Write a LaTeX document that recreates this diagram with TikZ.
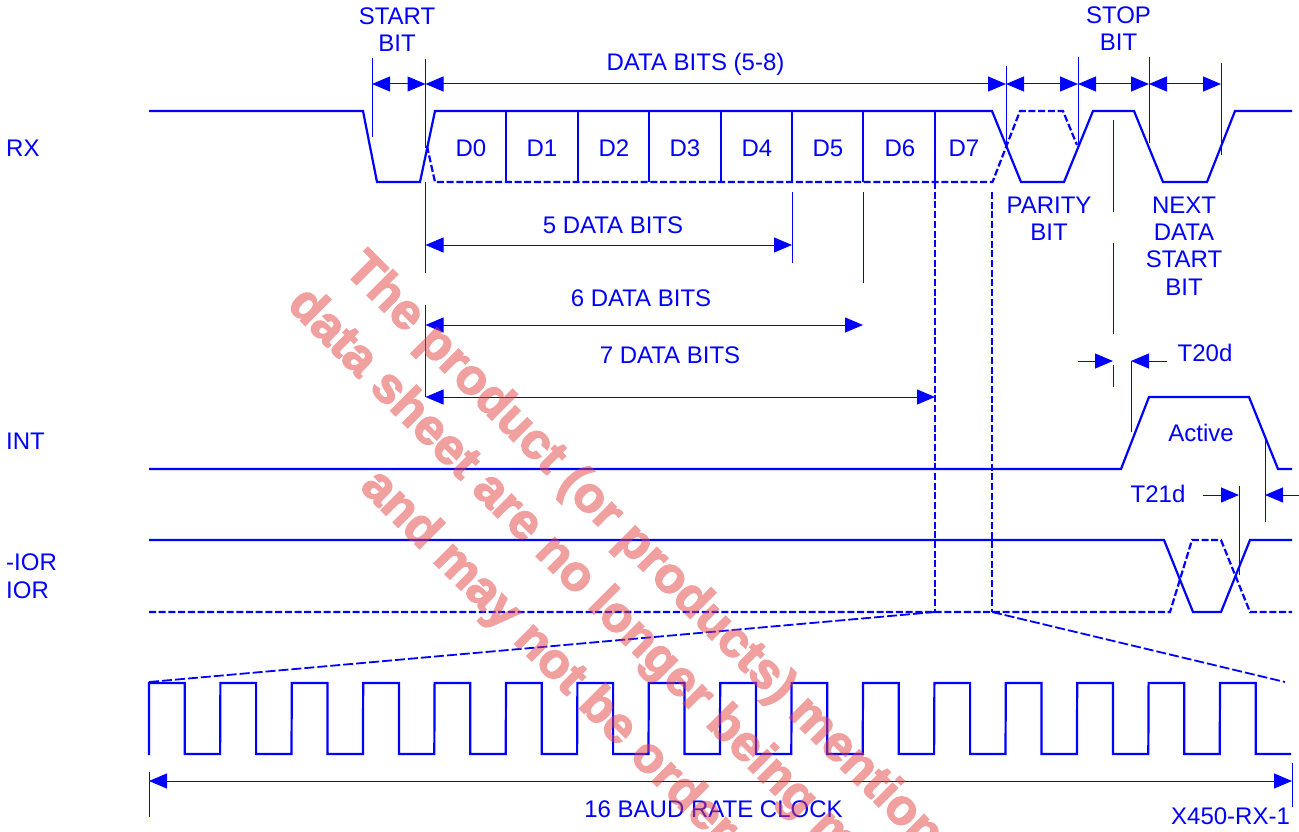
\documentclass[tikz,border=0pt]{standalone}
\usepackage{fontspec}
\setmainfont{Liberation Sans}
\newfontfamily\markfont[FakeBold=3]{Liberation Sans Bold}
\usetikzlibrary{arrows.meta}
\definecolor{sigblue}{RGB}{0,0,255}
\definecolor{markred}{RGB}{227,65,65}
\tikzset{
	sigline/.style={sigblue, line width=2.2pt},
	sigdash/.style={sigblue, line width=2.2pt, dash pattern=on 7pt off 2.7pt},
	fandash/.style={sigblue, line width=1.8pt, dash pattern=on 10pt off 3pt},
	tickline/.style={sigblue, line width=1pt},
	dimboth/.style={tickline, {Triangle[length=18pt,width=15pt]}-{Triangle[length=18pt,width=15pt]}},
	dimin/.style={tickline, -{Triangle[length=18pt,width=15pt]}},
	lbl/.style={sigblue, inner sep=0pt, align=center, font=\fontsize{24}{27.3}\selectfont},
	lblleft/.style={lbl, anchor=west},
	wmark/.style={markred, inner sep=0pt, rotate=-45, anchor=base west, font=\fontsize{50}{50}\selectfont\markfont},
}
\begin{document}
\begin{tikzpicture}[x=1pt, y=-1pt]
	\useasboundingbox (0,0) rectangle (1299,832);
	% RX
	\draw[sigline] (149,111) -- (363,111) -- (377,182) -- (420,182) -- (435,111) -- (992,111) -- (1021,182) -- (1064,182) -- (1093,111) -- (1134,111) -- (1163,182) -- (1207,182) -- (1235,111) -- (1292,111);
	\draw[sigdash] (427,146) -- (435,182) -- (992.5,182) -- (1020,111) -- (1063,111) -- (1077,145);
	\foreach \x in {506,578,649,721,792,863,935}
		\draw[sigline] (\x,111) -- (\x,182);
	\foreach \x/\t in {471/D0,542/D1,614/D2,685/D3,757/D4,828/D5,900/D6,964/D7}
		\node[lbl] (lbl\t) at (\x,148) {\t};

	% marks above RX
	\coordinate (S0) at (372,84);
	\coordinate (S1) at (425.5,84);
	\coordinate (S2) at (1006,84);
	\coordinate (S3) at (1078,84);
	\coordinate (S4) at (1149,84);
	\coordinate (S5) at (1221,84);
	\draw[tickline] (372,58) -- (372,137);
	\draw[tickline] (425.5,59) -- (425.5,148);
	\draw[tickline] (1006,66) -- (1006,146);
	\draw[tickline] (1078,57) -- (1078,145);
	\draw[tickline] (1149,57) -- (1149,143);
	\draw[tickline] (1221,63) -- (1221,155);
	\draw[dimboth] (S0) -- (S1);
	\draw[dimboth] (S1) -- (S2);
	\draw[dimboth] (S2) -- (S3);
	\draw[dimboth] (S3) -- (S4);
	\draw[dimboth] (S4) -- (S5);
	\node[lbl] (lblstart) at (397,29.5) {START\\BIT};
	\node[lbl] (lbldata) at (695.5,64) {DATA BITS (5-8)};
	\node[lbl] (lblstop) at (1118.5,28.5) {STOP\\BIT};
	\node[lbl] (lblparity) at (1049,218.5) {PARITY\\BIT};
	\node[lbl] (lblnext) at (1184,246) {NEXT\\DATA\\START\\BIT};

	% word lengths
	\coordinate (A5) at (425.5,245);
	\coordinate (B5) at (792,245);
	\coordinate (A6) at (425.5,325);
	\coordinate (B6) at (863,325);
	\coordinate (A7) at (425.5,397);
	\coordinate (B7) at (935,397);
	\draw[tickline] (425.5,182) -- (425.5,273);
	\draw[tickline] (425.5,305) -- (A7);
	\draw[tickline] (792,192) -- (792,263);
	\draw[tickline] (863,192) -- (863,283);
	\draw[dimboth] (A5) -- (B5);
	\draw[dimboth] (A6) -- (B6);
	\draw[dimboth] (A7) -- (B7);
	\node[lbl] (lbl5) at (613,225) {5 DATA BITS};
	\node[lbl] (lbl6) at (641,298) {6 DATA BITS};
	\node[lbl] (lbl7) at (670,355) {7 DATA BITS};

	% INT
	\draw[sigline] (149,469) -- (1121,469) -- (1149,397) -- (1249,397) -- (1278,469) -- (1292,469);
	\coordinate (T20a) at (1078,361);
	\coordinate (T20b) at (1113,361);
	\coordinate (T20c) at (1167,361);
	\coordinate (T20d) at (1131,361);
	\draw[tickline] (1113,120) -- (1113,212);
	\draw[tickline] (1113,243) -- (1113,334);
	\draw[tickline] (1113,365) -- (1113,387);
	\draw[tickline] (T20d) -- (1131,432);
	\draw[dimin] (T20a) -- (T20b);
	\draw[dimin] (T20c) -- (T20d);
	\node[lbl] (lblt20) at (1205,353) {T20d};
	\node[lbl] (lblactive) at (1201,433) {Active};

	% T21d
	\coordinate (T21a) at (1203,495);
	\coordinate (T21b) at (1239,495);
	\coordinate (T21c) at (1299,495);
	\coordinate (T21d) at (1265,495);
	\draw[tickline] (1239,486) -- (1239,575);
	\draw[tickline] (1265,437) -- (1265,522);
	\draw[dimin] (T21a) -- (T21b);
	\draw[dimin] (T21c) -- (T21d);
	\node[lbl] (lblt21) at (1158,494) {T21d};

	% IOR
	\draw[sigline] (149,540) -- (1164,540) -- (1193,612) -- (1221,612) -- (1250,540) -- (1292,540);
	\draw[sigdash] (149,612) -- (1170,612) -- (1192,540) -- (1221,540) -- (1250,612) -- (1292,612);
	\draw[sigdash] (935,182) -- (935,612);
	\draw[sigdash] (992,192) -- (992,612);
	\draw[fandash] (149,682) -- (935,612);
	\draw[fandash] (992,612) -- (1285,682);

	% clock
	\draw[sigline] (149,755) foreach \k in {0,...,15} {-- ({149+71.4*\k},683) -- ({184.7+71.4*\k},683) -- ({184.7+71.4*\k},754) -- ({220.1+71.4*\k},754)};
	\coordinate (C0) at (149,781);
	\coordinate (C1) at (1292,781);
	\draw[tickline] (149,772) -- (149,817);
	\draw[tickline] (1292,763) -- (1292,807);
	\draw[dimboth] (C0) -- (C1);
	\node[lbl] (lblclock) at (713.5,809) {16 BAUD RATE CLOCK};
	\node[lbl] (lblfig) at (1230.5,816) {X450-RX-1};

	% signal names
	\node[lblleft] (lblrx) at (6,148) {RX};
	\node[lblleft] (lblint) at (6,441) {INT};
	\node[lblleft] (lblnior) at (6,562) {-IOR};
	\node[lblleft] (lblior) at (6,590) {IOR};

	% watermark
	\begin{scope}[transparency group, opacity=0.5]
		\node[wmark] (markone) at (343,271) {The product (or products) mention};
		\node[wmark] (marktwo) at (286,306) {data sheet are no longer being m};
		\node[wmark] (markthree) at (359,488) {and may not be ordere};
	\end{scope}
\end{tikzpicture}
\end{document}
